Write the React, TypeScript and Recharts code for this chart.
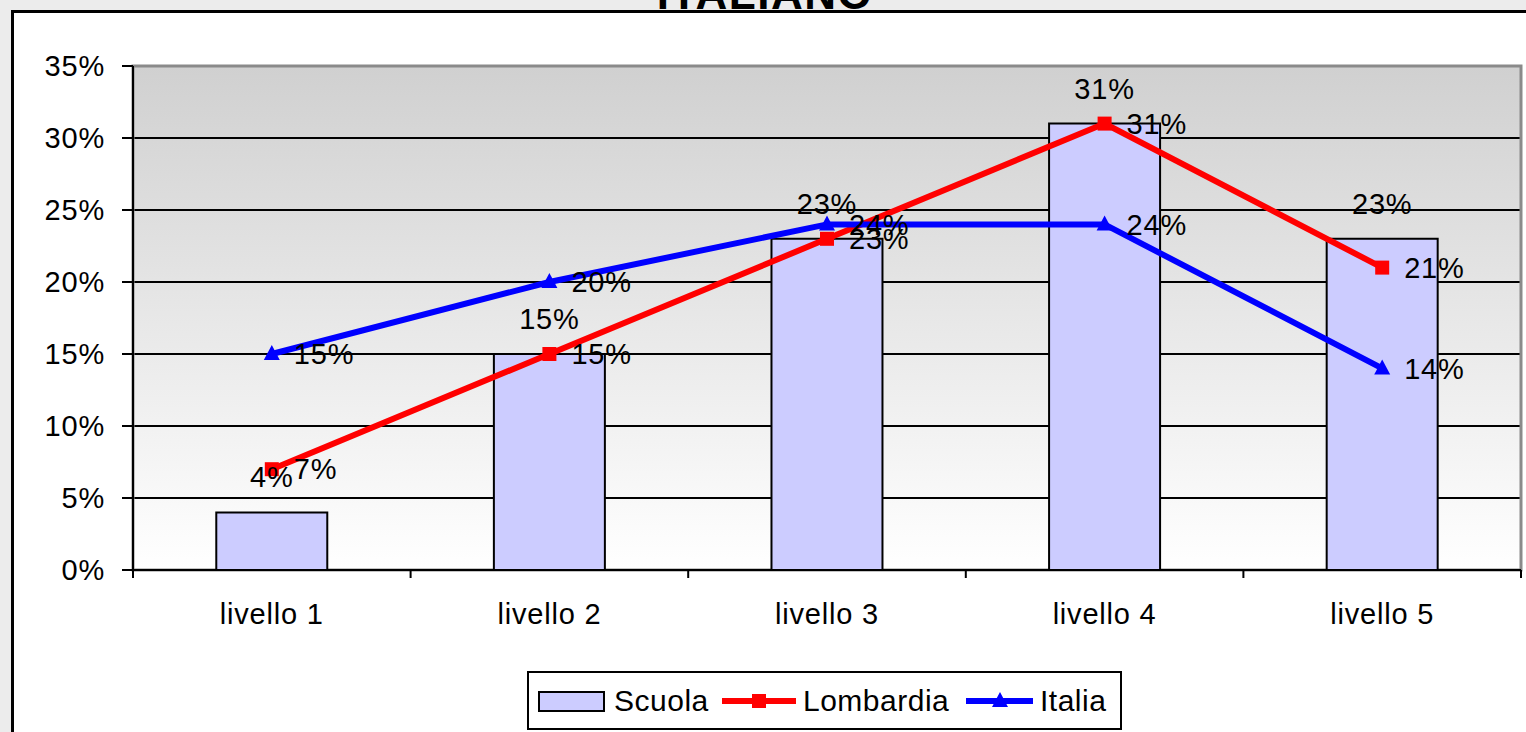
import React from 'react';
import {
  ComposedChart,
  Bar,
  Line,
  XAxis,
  YAxis,
  CartesianGrid,
  Legend,
  LabelList,
  ReferenceArea,
} from 'recharts';

const title = 'ITALIANO';
const categories = ['livello 1', 'livello 2', 'livello 3', 'livello 4', 'livello 5'];
const scuola = [0.04, 0.15, 0.23, 0.31, 0.23];
const lombardia = [0.07, 0.15, 0.23, 0.31, 0.21];
const italia = [0.15, 0.2, 0.24, 0.24, 0.14];
const yTicks = [0, 0.05, 0.1, 0.15, 0.2, 0.25, 0.3, 0.35];
const seriesNames = ['Scuola', 'Lombardia', 'Italia'];

const data = categories.map((c, i) => ({
  name: c,
  scuola: scuola[i],
  lombardia: lombardia[i],
  italia: italia[i],
}));

const FONT = '"Liberation Sans", Arial, sans-serif';
const FS = 29;
const LS = 0.8;
const pct = (v: any) => `${Math.round(Number(v) * 100)}%`;

const X_TICK_SIZE = 8;
const X_TICK_MARGIN = 25;

const XTick = (props: any) => {
  const { x, y, payload, index } = props;
  const off = payload && payload.offset ? payload.offset : 0;
  const axisY = y - X_TICK_SIZE - X_TICK_MARGIN;
  const n = categories.length;
  return (
    <g>
      <line x1={x - off} x2={x - off} y1={axisY} y2={axisY + X_TICK_SIZE} stroke="#000" strokeWidth={2} />
      {index === n - 1 && (
        <line x1={x + off} x2={x + off} y1={axisY} y2={axisY + X_TICK_SIZE} stroke="#000" strokeWidth={2} />
      )}
      <text x={x} y={y} dy="0.71em" textAnchor="middle" fontSize={FS} letterSpacing={LS} fontFamily={FONT} fill="#000">
        {payload.value}
      </text>
    </g>
  );
};

const SquareDot = (props: any) => {
  const { cx, cy } = props;
  if (cx == null || cy == null) return null;
  return <rect x={cx - 7} y={cy - 7} width={14} height={14} fill="#ff0000" />;
};

const TriDot = (props: any) => {
  const { cx, cy } = props;
  if (cx == null || cy == null) return null;
  return <polygon points={`${cx},${cy - 9} ${cx + 8},${cy + 6} ${cx - 8},${cy + 6}`} fill="#0000ff" />;
};

const legendText: React.CSSProperties = {
  position: 'absolute',
  top: 0,
  height: 55,
  lineHeight: '55px',
  fontFamily: FONT,
  fontSize: 30,
  letterSpacing: 0.5,
  color: '#000',
  whiteSpace: 'nowrap',
};

const LegendContent = () => (
  <div
    style={{
      position: 'relative',
      border: '2px solid #000',
      background: '#fff',
      height: 59,
      width: 595,
      boxSizing: 'border-box',
    }}
  >
    <svg width={595} height={55} style={{ position: 'absolute', left: 0, top: 0, display: 'block' }}>
      <rect x={10} y={19} width={65} height={19} fill="#ccccff" stroke="#000" strokeWidth={2} />
      <line x1={193} x2={267} y1={28} y2={28} stroke="#ff0000" strokeWidth={6} />
      <rect x={223} y={21} width={14} height={14} fill="#ff0000" />
      <line x1={437} x2={504} y1={28} y2={28} stroke="#0000ff" strokeWidth={6} />
      <polygon points="471,19 479,34 463,34" fill="#0000ff" />
    </svg>
    <span style={{ ...legendText, left: 85 }}>{seriesNames[0]}</span>
    <span style={{ ...legendText, left: 274 }}>{seriesNames[1]}</span>
    <span style={{ ...legendText, left: 511 }}>{seriesNames[2]}</span>
  </div>
);

export default function App() {
  return (
    <div
      style={{
        position: 'fixed',
        left: 0,
        top: 0,
        width: 1526,
        height: 732,
        background: '#ececec',
        overflow: 'hidden',
      }}
    >
      <div
        style={{
          position: 'absolute',
          left: 11,
          top: 10,
          width: 1600,
          height: 800,
          border: '3px solid #000',
          background: '#fff',
        }}
      />
      <svg width={1526} height={20} style={{ position: 'absolute', left: 0, top: 0 }}>
        <text x={765} y={9} textAnchor="middle" fontFamily={FONT} fontWeight="bold" fontSize={44} letterSpacing={1.5} fill="#000">
          {title}
        </text>
      </svg>
      <div style={{ position: 'absolute', left: 0, top: 0 }}>
        <ComposedChart
          width={1526}
          height={732}
          data={data}
          margin={{ top: 66, right: 5, left: 0, bottom: 102 }}
          barCategoryGap="30%"
        >
          <defs>
            <linearGradient id="plotGrad" x1="0" y1="0" x2="0" y2="1">
              <stop offset="0%" stopColor="#d0d0d0" />
              <stop offset="100%" stopColor="#ffffff" />
            </linearGradient>
          </defs>
          <CartesianGrid
            vertical={false}
            stroke="#000"
            strokeWidth={2}
            strokeOpacity={1}
            fill="url(#plotGrad)"
            fillOpacity={1}
          />
          <ReferenceArea y1={0} y2={0.35} fill="none" stroke="#8a8a8a" strokeWidth={3} ifOverflow="visible" />
          <XAxis
            dataKey="name"
            height={60}
            axisLine={{ stroke: '#000', strokeWidth: 2 }}
            tickLine={false}
            tickSize={X_TICK_SIZE}
            tickMargin={X_TICK_MARGIN}
            tick={<XTick />}
            interval={0}
          />
          <YAxis
            width={133}
            domain={[0, 0.35]}
            ticks={yTicks}
            tickFormatter={pct}
            axisLine={{ stroke: '#000', strokeWidth: 2 }}
            tickLine={{ stroke: '#000', strokeWidth: 2 }}
            tickSize={11}
            tickMargin={17}
            tick={{ fill: '#000', fontSize: FS, fontFamily: FONT, letterSpacing: LS }}
            interval={0}
          />
          <Bar dataKey="scuola" name={seriesNames[0]} fill="#ccccff" stroke="#000" strokeWidth={2} isAnimationActive={false}>
            <LabelList dataKey="scuola" position="top" offset={25} formatter={pct} fill="#000" fontSize={FS} letterSpacing={LS} fontFamily={FONT} />
          </Bar>
          <Line
            dataKey="lombardia"
            name={seriesNames[1]}
            stroke="#ff0000"
            strokeWidth={6}
            dot={<SquareDot />}
            activeDot={false}
            isAnimationActive={false}
          >
            <LabelList dataKey="lombardia" position="right" offset={22} formatter={pct} fill="#000" fontSize={FS} letterSpacing={LS} fontFamily={FONT} />
          </Line>
          <Line
            dataKey="italia"
            name={seriesNames[2]}
            stroke="#0000ff"
            strokeWidth={6}
            dot={<TriDot />}
            activeDot={false}
            isAnimationActive={false}
          >
            <LabelList dataKey="italia" position="right" offset={22} formatter={pct} fill="#000" fontSize={FS} letterSpacing={LS} fontFamily={FONT} />
          </Line>
          <Legend
            layout="horizontal"
            verticalAlign="middle"
            align="center"
            content={<LegendContent />}
            wrapperStyle={{ left: 527, top: 671, width: 595, height: 59 }}
          />
        </ComposedChart>
      </div>
    </div>
  );
}
